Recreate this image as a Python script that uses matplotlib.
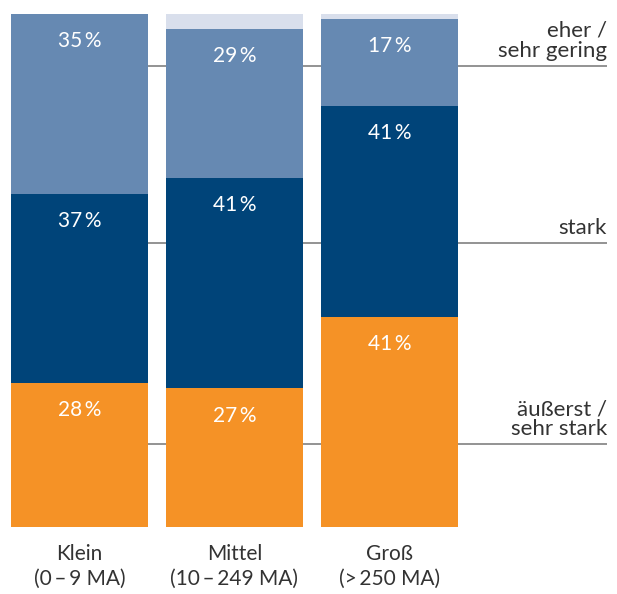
import matplotlib
matplotlib.use("Agg")
import matplotlib.pyplot as plt
import numpy as np

plt.rcParams['font.family'] = ['Lato', 'DejaVu Sans']

categories = ["Klein\n(0\u2009\u2013\u20099 MA)", "Mittel\n(10\u2009\u2013\u2009249 MA)", "Groß\n(>\u2009250 MA)"]
sehr_stark = [28, 27, 41]
stark = [37, 41, 41]
gering = [35, 29, 17]
rest = [100 - a - b - c for a, b, c in zip(sehr_stark, stark, gering)]

series = [sehr_stark, stark, gering, rest]
colors = ["#F59226", "#004479", "#6689B2", "#D9DFEC"]
show_label = [True, True, True, False]

legend_labels = ["äußerst /\nsehr stark", "stark", "eher /\nsehr gering"]
legend_y = [16.2, 55.4, 89.9]

W, H = 617, 594
fig = plt.figure(figsize=(W / 100, H / 100), dpi=100)
bottom_px, top_px = 527, 14
ax = fig.add_axes([0, (H - bottom_px) / H, 1, (bottom_px - top_px) / H])

spacing = 155.0
c0 = 79.5
ax.set_xlim(-c0 / spacing, (W - c0) / spacing)
ax.set_ylim(0, 100)
ax.axis("off")

x = np.arange(len(categories))
width = 137 / spacing

# reference lines behind bars
line_end = (607 - c0) / spacing
for ly, lab in zip(legend_y, legend_labels):
    ax.plot([0 - width / 2, line_end], [ly, ly], color="#8a8a8a", lw=1.3, zorder=1,
            solid_capstyle="butt")
    ax.annotate(lab, xy=(line_end, ly), xytext=(0, 3.5), textcoords="offset points",
                ha="right", va="bottom", fontsize=16, color="#333333",
                linespacing=1.0)

base = np.zeros(len(categories))
for vals, col, sl in zip(series, colors, show_label):
    vals = np.array(vals, dtype=float)
    ax.bar(x, vals, width=width, bottom=base, color=col, zorder=2, linewidth=0)
    if sl:
        for xi, b, v in zip(x, base, vals):
            ax.annotate(f"{int(v)}\u2009%", xy=(xi, b + v), xytext=(0, -19.5),
                        textcoords="offset points", ha="center", va="center",
                        fontsize=15, color="white", zorder=3)
    base += vals

for xi, cat in zip(x, categories):
    ax.annotate(cat, xy=(xi, 0), xytext=(0, -12.5), textcoords="offset points",
                ha="center", va="top", fontsize=15, color="#333333",
                linespacing=1.25)

fig.savefig("out.png", dpi=100)
